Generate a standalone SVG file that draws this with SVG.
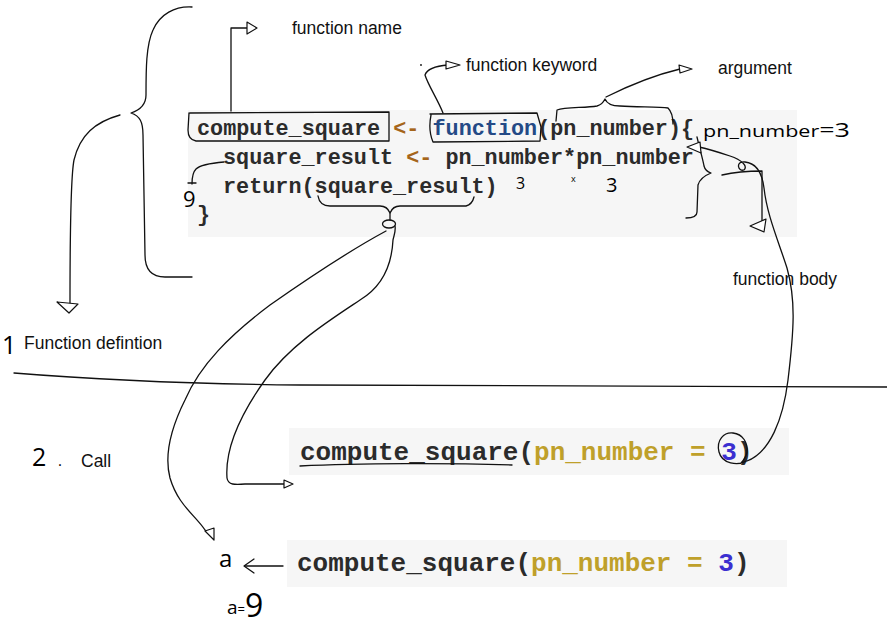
<svg xmlns="http://www.w3.org/2000/svg" width="887" height="625" viewBox="0 0 887 625">
  <style>
    .bg { fill: #ffffff; }
    .code-bg { fill: #f6f6f6; }
    .code { font-family: "Liberation Mono", "DejaVu Sans Mono", monospace; font-weight: bold; fill: #2b2b2b; }
    .op { fill: #a5651a; }
    .kw { fill: #244a86; }
    .arg { fill: #bfa02a; }
    .num { fill: #3b2fd0; }
    .label { font-family: "Liberation Sans", Arial, sans-serif; font-size: 17.5px; fill: #111; }
    .hand { font-family: "Open Sans", "DejaVu Sans", sans-serif; font-weight: normal; fill: #000; }
    .ink { fill: none; stroke: #111; stroke-width: 1.3; stroke-linecap: round; stroke-linejoin: round; }
    .head { fill: #fff; stroke: #111; stroke-width: 1.2; stroke-linejoin: round; }
  </style>

  <rect class="bg" x="0" y="0" width="887" height="625"/>

  <!-- function definition code block -->
  <g id="definition-block">
    <rect class="code-bg" x="188" y="110" width="609" height="127"/>
    <text class="code" font-size="21.8" x="197" y="135">compute_square <tspan class="op">&lt;-</tspan> <tspan class="kw">function</tspan>(pn_number){</text>
    <text class="code" font-size="21.8" x="223" y="164">square_result <tspan class="op">&lt;-</tspan> pn_number*pn_number</text>
    <text class="code" font-size="21.8" x="223" y="193">return(square_result)</text>
    <text class="code" font-size="21.8" x="197" y="221">}</text>
  </g>

  <!-- call code block -->
  <g id="call-block">
    <rect class="code-bg" x="289" y="428" width="500" height="47"/>
    <text class="code" font-size="26" x="300" y="460">compute_square(<tspan class="arg">pn_number</tspan> <tspan class="arg">=</tspan> <tspan class="num">3</tspan>)</text>
  </g>

  <!-- assigned call code block -->
  <g id="assign-block">
    <rect class="code-bg" x="287" y="540" width="500" height="47"/>
    <text class="code" font-size="26" x="297" y="571">compute_square(<tspan class="arg">pn_number</tspan> <tspan class="arg">=</tspan> <tspan class="num">3</tspan>)</text>
  </g>

  <!-- printed labels -->
  <g id="label-name"><text class="label" x="292" y="34">function name</text></g>
  <g id="label-keyword"><text class="label" x="466" y="71">function keyword</text></g>
  <g id="label-argument"><text class="label" x="718" y="74">argument</text></g>
  <g id="label-body"><text class="label" x="733" y="285">function body</text></g>
  <g id="label-definition"><text class="label" x="24" y="349">Function defintion</text></g>
  <g id="label-call"><text class="label" x="81" y="467">Call</text></g>

  <!-- handwritten notes -->
  <g id="notes">
    <text class="hand" font-size="25" x="2" y="354">1</text>
    <text class="hand" font-size="25" x="32" y="466">2</text>
    <text class="hand" font-size="15" x="58" y="466">.</text>
    <text class="hand" x="703" y="137" textLength="147" lengthAdjust="spacingAndGlyphs"><tspan font-size="16">pn_number</tspan><tspan font-size="20">=3</tspan></text>
    <text class="hand" font-size="16" x="516" y="189">3</text>
    <text class="hand" font-size="9" x="571" y="182">x</text>
    <text class="hand" font-size="20" x="606" y="192">3</text>
    <text class="hand" font-size="22" x="183" y="207">9</text>
    <text class="hand" font-size="24" x="219" y="567">a</text>
    <text class="hand" font-size="19" x="227" y="614">a<tspan font-size="13">=</tspan><tspan font-size="32" dy="3">9</tspan></text>
  </g>

  <!-- connectors, braces and marks -->
  <g id="connectors">
    <!-- brace spanning the definition -->
    <path class="ink" d="M192,7 C175,6 160,14 153,30 C146,45 146,70 146,95 C146,105 140,110 131,113 C140,116 143,122 143,135 L145,255 C145,270 152,277 165,277 L192,277"/>
    <path class="ink" d="M120,115 C95,122 80,135 74,160 C70,180 70,260 70,304"/>
    <path class="head" d="M57,302 L78,304 L69,313 Z"/>

    <!-- function name -->
    <path class="ink" d="M190,113 L389,112 L389,141 L196,141 C190,140 188,136 188,130 L189,113"/>
    <path class="ink" d="M231,111 L231,28 L248,28"/>
    <path class="head" d="M247,22 L257,28 L247,34 Z"/>

    <!-- function keyword -->
    <path class="ink" d="M430,114 L537,113 L541,127 L540,141 L433,142 C430,135 429,125 431,115"/>
    <path class="ink" d="M443,113 C438,100 428,85 425,75 C427,69 435,66 448,65"/>
    <path class="head" d="M446,61 L460,65 L446,69 Z"/>
    <circle cx="421" cy="65" r="0.9" fill="#111"/>

    <!-- argument -->
    <path class="ink" d="M556,121 L557,110 C565,107 585,108 597,106 C601,105 603,103 605,99 C607,104 612,106 620,106 C640,107 660,107 668,108 C672,112 673,118 673,124"/>
    <path class="ink" d="M606,97 C630,85 655,75 680,69"/>
    <path class="head" d="M679,65 L692,69 L680,73 Z"/>

    <!-- square_result feeding the result -->
    <path class="ink" d="M224,162 C212,163 200,165 196,169 C193,172 192,178 192,184"/>
    <path class="ink" d="M188,183 L196,183"/>

    <!-- brace under square_result and its two links -->
    <path class="ink" d="M318,196 C319,202 322,206 330,206 L380,206 C385,206 388,208 390,213 C392,208 395,206 400,206 L466,206 C470,205 473,201 474,197"/>
    <path class="ink" d="M390,213 L390,220"/>
    <ellipse class="ink" cx="389" cy="224" rx="6.5" ry="4"/>
    <path class="ink" d="M395,226 C396,231 394,235 393,240 C392,260 385,285 360,300 C330,320 290,345 265,380 C240,415 225,450 227,478 C228,485 235,485 245,484 L286,484"/>
    <path class="head" d="M284,480 L293,484 L284,488 Z"/>
    <path class="ink" d="M386,231 C360,245 320,270 270,305 C230,335 200,365 185,400 C170,430 164,455 170,478 C178,505 195,515 205,530 L210,535"/>
    <path class="head" d="M205,531 L214,540 L214,528 Z"/>

    <!-- function body -->
    <path class="ink" d="M697,137 C700,150 703,160 704,166 C705,170 708,172 711,173 C706,175 700,178 698,185 L697,212 C697,216 694,218 686,218"/>
    <path class="ink" d="M722,175 C735,172 745,171 762,171 L762,228"/>
    <path class="head" d="M750,226 L766,219 L764,232 Z"/>

    <!-- argument value 3 carried into the body -->
    <path class="ink" d="M746,461 C738,466 722,464 719,452 C716,440 724,432 733,433 C743,434 748,443 747,452 C746,457 744,460 741,463"/>
    <path class="ink" d="M747,461 C770,452 783,420 788,380 C794,330 796,300 787,268 C778,240 767,215 764,188 C762,172 755,163 745,162 C735,161 738,172 744,170 C748,166 742,160 730,156 C718,152 708,149 699,147"/>
    <path class="head" d="M687,147 L700,142 L701,153 Z"/>

    <!-- underline on the call -->
    <path class="ink" d="M300,466 C360,463 450,463 512,465"/>

    <!-- result assigned to a -->
    <path class="ink" d="M283,566 L245,566"/>
    <path class="ink" d="M254,559 L244,566 L254,573"/>

    <!-- section divider -->
    <path class="ink" d="M14,373 C100,380 200,384 300,385 L887,387"/>
  </g>
</svg>
